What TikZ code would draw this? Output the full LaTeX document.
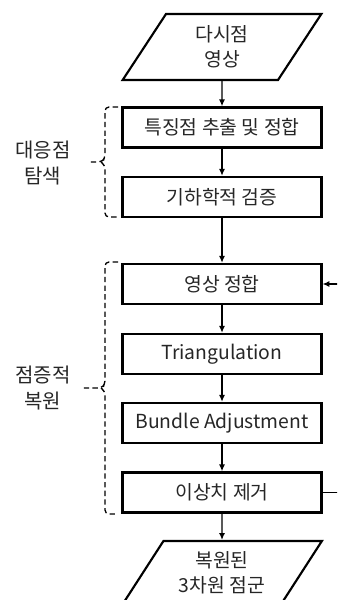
\documentclass[tikz,border=0pt]{standalone}
\usepackage{fontspec}
\setmainfont{Noto Sans CJK KR}
\usetikzlibrary{arrows.meta, shapes.geometric}

\begin{document}
\begin{tikzpicture}[
  x=0.75pt, y=-0.75pt,
  >={Latex[length=1.8mm, width=1.6mm]},
  stage/.style={draw, line width=1.8pt, minimum width=149pt, minimum height=30pt, align=center, text=black!85, font=\fontsize{14.5}{19}\selectfont},
  io/.style={draw, line width=1.6pt, trapezium, trapezium stretches=true, minimum width=150pt, align=center, text=black!85, font=\fontsize{14.5}{19}\selectfont},
  flow/.style={->, line width=1.1pt},
  grp/.style={line width=1pt, dash pattern=on 4pt off 2.5pt, rounded corners=3pt},
  grplbl/.style={align=center, text=black!85, font=\fontsize{15}{20}\selectfont}
]
\path[use as bounding box, clip] (0,0) rectangle (337,600);

\node[io, trapezium left angle=65, trapezium right angle=115, minimum height=49.5pt] (views) at (222,47) {다시점\\영상};
\node[stage] (feat)  at (222,127.5) {특징점 추출 및 정합};
\node[stage] (geo)   at (222,197)   {기하학적 검증};
\node[stage] (reg)   at (222,284)   {영상 정합};
\node[stage] (tri)   at (222,354)   {Triangulation};
\node[stage] (ba)    at (222,423)   {Bundle Adjustment};
\node[stage] (outl)  at (222,492.5) {이상치 제거};
\node[io, trapezium left angle=57, trapezium right angle=123, minimum height=48pt] (cloud) at (222,573) {복원된\\3차원 점군};

\foreach \a/\b in {views/feat, feat/geo, geo/reg, reg/tri, tri/ba, ba/outl, outl/cloud}
  \draw[flow] (\a.south) -- (\b.north);

% feedback loop
\coordinate (fb) at (345,0);
\draw[flow] (outl.east) -- (outl.east -| fb) |- (reg.east);

% groups
\draw[grp] (118,107) -- (105,107) -- (105,159) -- (101,162) -- (88,162);
\draw[grp] (101,162) -- (105,165) -- (105,217) -- (118,217);
\node[grplbl] (corr) at (43,163) {대응점\\탐색};

\draw[grp] (118,262) -- (105,262) -- (105,385) -- (101,388) -- (82,388);
\draw[grp] (101,388) -- (105,391) -- (105,514) -- (118,514);
\node[grplbl] (incr) at (43,388) {점증적\\복원};

\end{tikzpicture}
\end{document}
